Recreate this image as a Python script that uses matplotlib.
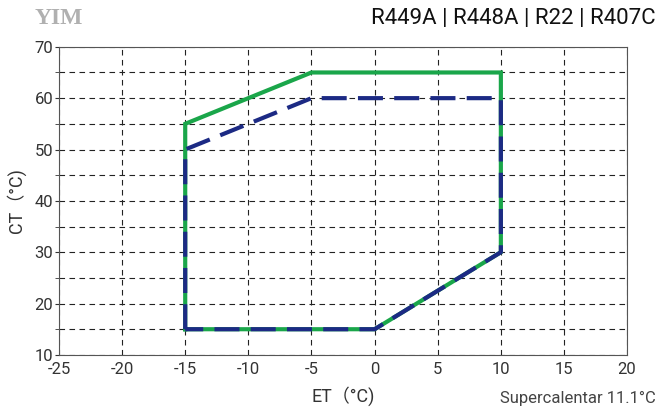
import matplotlib
matplotlib.use("Agg")
import matplotlib.pyplot as plt
from matplotlib.ticker import MultipleLocator

# envelope data (ET, CT)
et_r449 = [-15, -15, -5, 10, 10, 0, -15]
ct_r449 = [15, 55, 65, 65, 30, 15, 15]
et_r22 = [-15, -15, -5, 10, 10, 0, -15]
ct_r22 = [15, 50, 60, 60, 30, 15, 15]

plt.rcParams['font.family'] = ['Roboto', 'Noto Sans CJK SC', 'DejaVu Sans']
plt.rcParams['axes.unicode_minus'] = False

fig = plt.figure(figsize=(6.7, 4.07), dpi=100)
ax = fig.add_axes([0.088, 0.128, 0.848, 0.757])

ax.plot(et_r449, ct_r449, color="#1aa64a", lw=3, solid_joinstyle="miter", zorder=3)
ax.plot(et_r22, ct_r22, color="#1c2a84", lw=3, ls=(0, (6, 2.7)), zorder=4)

ax.set_xlim(-25, 20)
ax.set_ylim(10, 70)
ax.xaxis.set_major_locator(MultipleLocator(5))
ax.yaxis.set_major_locator(MultipleLocator(10))
ax.yaxis.set_minor_locator(MultipleLocator(5))
ax.grid(True, which="both", color="#222222", ls=(0, (5, 4)), lw=0.8)
ax.tick_params(which="both", length=3, labelsize=12, colors="#333333", pad=1)
ax.tick_params(axis="x", length=0, pad=5)
for s in ax.spines.values():
    s.set_color("#555555")

ax.set_xlabel("ET（°C)", fontsize=13, color="#333333", labelpad=7)
ax.set_ylabel("CT（°C)", fontsize=13, color="#333333", labelpad=6)

fig.text(0.052, 0.955, "YIM", fontsize=17, color="#b0b0b0", weight="bold",
         family="Liberation Serif", va="center")
fig.text(0.978, 0.955, "R449A | R448A | R22 | R407C", fontsize=16, color="#111111",
         ha="right", va="center")
fig.text(0.978, 0.022, "Supercalentar 11.1°C", fontsize=12, color="#444444",
         ha="right", va="center")

fig.savefig("out.png", dpi=100)
